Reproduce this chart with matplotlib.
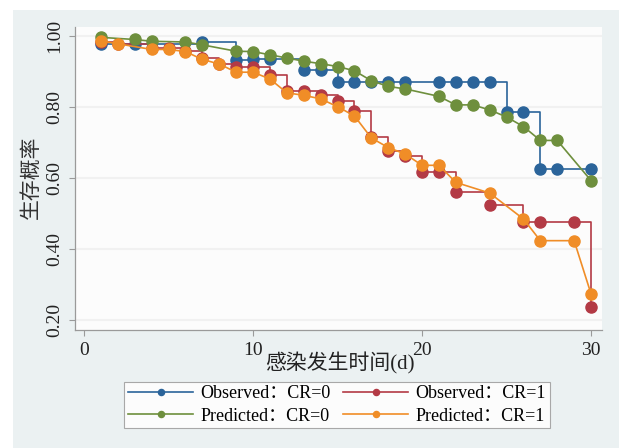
import matplotlib
matplotlib.use("Agg")
import matplotlib.pyplot as plt
from matplotlib.patches import Rectangle

# 观察值 / 预测值, CR=0 与 CR=1
t_obs0 = [1, 3, 7, 9, 10, 11, 13, 14, 15, 16, 17, 18, 19, 21, 22, 23, 24, 25, 26, 27, 28, 30]
s_obs0 = [0.976, 0.977, 0.983, 0.933, 0.934, 0.934, 0.904, 0.904, 0.870, 0.870, 0.870, 0.870,
          0.870, 0.870, 0.870, 0.870, 0.870, 0.786, 0.786, 0.626, 0.626, 0.626]

t_pred0 = [1, 3, 4, 6, 7, 9, 10, 11, 12, 13, 14, 15, 16, 17, 18, 19, 21, 22, 23, 24, 25, 26, 27, 28, 30]
s_pred0 = [0.996, 0.990, 0.985, 0.983, 0.975, 0.957, 0.956, 0.947, 0.938, 0.929, 0.922, 0.914,
           0.902, 0.874, 0.858, 0.851, 0.830, 0.806, 0.806, 0.792, 0.772, 0.745, 0.706, 0.706, 0.593]

t_obs1 = [1, 2, 4, 5, 6, 7, 8, 9, 10, 11, 12, 13, 14, 15, 16, 17, 18, 19, 20, 21, 22, 24, 26, 27, 29, 30]
s_obs1 = [0.982, 0.978, 0.966, 0.965, 0.958, 0.938, 0.920, 0.912, 0.912, 0.891, 0.845, 0.844,
          0.834, 0.818, 0.790, 0.716, 0.677, 0.661, 0.617, 0.617, 0.562, 0.523, 0.476, 0.476,
          0.476, 0.237]

t_pred1 = [1, 2, 4, 5, 6, 7, 8, 9, 10, 11, 12, 13, 14, 15, 16, 17, 18, 19, 20, 21, 22, 24, 26, 27, 29, 30]
s_pred1 = [0.986, 0.978, 0.962, 0.962, 0.956, 0.934, 0.921, 0.898, 0.898, 0.879, 0.840, 0.833,
           0.823, 0.801, 0.775, 0.713, 0.686, 0.668, 0.636, 0.636, 0.588, 0.558, 0.485, 0.424,
           0.424, 0.274]

y_ticks = [0.2, 0.4, 0.6, 0.8, 1.0]
x_ticks = [0, 10, 20, 30]

serif = ["Liberation Serif", "Noto Sans CJK SC"]

c_blue = "#2b649a"
c_red = "#b33a45"
c_green = "#6e8f3d"
c_orange = "#f08d27"

fig = plt.figure(figsize=(6.24, 4.48), dpi=100, facecolor="white")
fig.patches.append(Rectangle((13 / 624, 0), (619 - 13) / 624, 1 - 10 / 448,
                             transform=fig.transFigure, facecolor="#ebf1f2",
                             edgecolor="none", zorder=-5))

ax = fig.add_axes([74.7 / 624, 1 - 329.7 / 448, (601.7 - 74.7) / 624, (329.7 - 26.7) / 448])
ax.set_facecolor("#fcfcfc")

ms = 8
lw = 1.2
h_obs0, = ax.plot(t_obs0, s_obs0, drawstyle="steps-post", color=c_blue, lw=lw, marker="o",
                  ms=ms, label="Observed：CR=0", zorder=3)
h_obs1, = ax.plot(t_obs1, s_obs1, drawstyle="steps-post", color=c_red, lw=lw, marker="o",
                  ms=ms, label="Observed：CR=1", zorder=3)
h_pred0, = ax.plot(t_pred0, s_pred0, color=c_green, lw=lw, marker="o", ms=ms,
                   label="Predicted：CR=0", zorder=4)
h_pred1, = ax.plot(t_pred1, s_pred1, color=c_orange, lw=lw, marker="o", ms=ms,
                   label="Predicted：CR=1", zorder=4)

ax.set_xlim(-0.55, 30.63)
ax.set_ylim(0.1735, 1.026)
ax.set_xticks(x_ticks)
ax.set_yticks(y_ticks)
ax.set_yticklabels([f"{v:.2f}" for v in y_ticks], rotation=90, va="center", family=serif)
ax.set_xticklabels([str(v) for v in x_ticks], family=serif)
ax.tick_params(axis="both", labelsize=14, length=4.5, width=0.8, color="#9a9a9a",
               direction="out", labelcolor="#222222")
ax.tick_params(axis="y", pad=4)
ax.tick_params(axis="x", pad=4)
ax.yaxis.grid(True, color="#f1f1f1", lw=1.5)
ax.set_axisbelow(True)
for side in ["top", "right"]:
    ax.spines[side].set_visible(False)
for side in ["left", "bottom"]:
    ax.spines[side].set_color("#9a9a9a")
    ax.spines[side].set_linewidth(0.9)

fig.text(340 / 624, 1 - 363 / 448, "感染发生时间(d)", ha="center", va="center",
         fontsize=15, family=serif, color="#222222")
fig.text(32 / 624, 1 - 177 / 448, "生存概率", ha="center", va="center", rotation=90,
         fontsize=15, family=serif, color="#333333")

leg = fig.legend([h_obs0, h_pred0, h_obs1, h_pred1],
                 [h.get_label() for h in [h_obs0, h_pred0, h_obs1, h_pred1]],
                 loc="center", bbox_to_anchor=(337 / 624, 1 - 405 / 448), ncol=2,
                 prop={"family": serif, "size": 13}, handlelength=3.6, markerscale=0.55,
                 frameon=True, fancybox=False, edgecolor="#a8a8a8", facecolor="#fcfcfc",
                 framealpha=1, borderpad=0.2, labelspacing=0.3, columnspacing=0.7,
                 handletextpad=0.4, borderaxespad=0)
leg.get_frame().set_linewidth(0.8)

fig.savefig("out.png", dpi=100, facecolor=fig.get_facecolor())
